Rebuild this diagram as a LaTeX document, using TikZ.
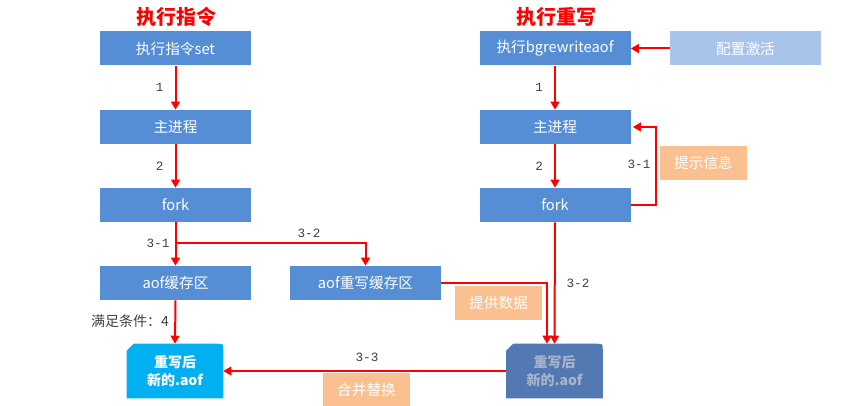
\documentclass[tikz,border=0pt]{standalone}
\usepackage{fontspec}
\setmainfont{Noto Sans CJK SC}
\newfontfamily\labelfont{Liberation Mono}
\usetikzlibrary{arrows.meta,calc}
\definecolor{boxblue}{RGB}{85,142,213}
\definecolor{cfgblue}{RGB}{169,196,235}
\definecolor{notebg}{RGB}{250,192,144}
\definecolor{newcyan}{RGB}{0,176,240}
\definecolor{oldblue}{RGB}{82,121,178}
\definecolor{oldtext}{RGB}{166,180,204}
\definecolor{lbl}{RGB}{64,64,64}
\tikzset{
  x=0.75pt, y=-0.75pt,
  stepbox/.style={fill=boxblue, text=white, inner sep=0pt, minimum width=113.25pt, minimum height=25.5pt, font=\fontsize{11}{12}\selectfont},
  cfgbox/.style={stepbox, fill=cfgblue},
  notebox/.style={fill=notebg, text=white, inner sep=0pt, minimum width=65.25pt, minimum height=25pt, font=\fontsize{11}{12}\selectfont},
  filebox/.style={inner sep=0pt, minimum width=72pt, minimum height=40.5pt, align=center, font=\fontsize{10.5}{13}\selectfont\bfseries},
  title/.style={text=red, font=\fontsize{15}{18}\selectfont\bfseries},
  flow/.style={draw=red, line width=1.5pt, -{Triangle[width=6.5pt,length=6pt]}},
  num/.style={text=lbl, font=\labelfont\fontsize{9.5}{10}\selectfont},
  cjknum/.style={text=lbl, font=\fontsize{10.5}{12}\selectfont},
}
\begin{document}
\begin{tikzpicture}
\useasboundingbox (0,0) rectangle (856,406);

% headings
\node[title] (t1) at (176,17) {执行指令};
\node[title] (t2) at (556,17) {执行重写};

% command path
\node[stepbox] (L1) at (175.5,48.5) {执行指令set};
\node[stepbox] (L2) at (175.5,127) {主进程};
\node[stepbox] (L3) at (175.5,205) {fork};
\node[stepbox] (A) at (175.5,283) {aof缓存区};
\node[stepbox] (B) at (365.5,283) {aof重写缓存区};

% rewrite path
\node[stepbox] (R1) at (555,48.5) {执行bgrewriteaof};
\node[stepbox] (R2) at (555,127) {主进程};
\node[stepbox] (R3) at (555,205) {fork};
\node[cfgbox] (cfg) at (745.5,48.5) {配置激活};

% notes
\node[notebox] (tip) at (703.5,163) {提示信息};
\node[notebox] (sup) at (498.5,303) {提供数据};
\node[notebox] (mrg) at (366.5,390) {合并替换};

% resulting files
\node[filebox] (NL) at (175,371) {};
\node[filebox] (NR) at (554.5,371) {};
\fill[newcyan] (NL.south west) -- ($(NL.north west)+(0,7)$) -- ($(NL.north west)+(7,0)$)
  -- ($(NL.north east)+(-6,0)$) .. controls (NL.north east) .. ($(NL.north east)+(0,6)$) -- (NL.south east) -- cycle;
\fill[oldblue] (NR.south west) -- ($(NR.north west)+(0,7)$) -- ($(NR.north west)+(7,0)$)
  -- ($(NR.north east)+(-6,0)$) .. controls (NR.north east) .. ($(NR.north east)+(0,6)$) -- (NR.south east) -- cycle;
\node[filebox, text=white] at (NL) {重写后\\新的.aof};
\node[filebox, text=oldtext] at (NR) {重写后\\新的.aof};

% command flow
\draw[flow] (L1.south) -- node[num, left=5pt] {1} (L2.north);
\draw[flow] (L2.south) -- node[num, left=5pt] {2} (L3.north);
\coordinate (br) at (175.5,243);
\draw[flow] (L3.south) -- (A.north);
\draw[flow] (br) -| (B.north);
\node[num] at (158,243) {3-1};
\node[num] at (309,233) {3-2};
\draw[flow] (A.south) -- (NL.north);
\node[cjknum] at (130,321) {满足条件：4};

% rewrite flow
\draw[flow] (cfg.west) -- (R1.east);
\draw[flow] (R1.south) -- node[num, left=5pt] {1} (R2.north);
\draw[flow] (R2.south) -- node[num, left=5pt] {2} (R3.north);
\coordinate (rt) at (656,205);
\draw[flow] (R3.east) -- (rt) |- ($(R2.east)+(2,0)$);
\node[num] at (639,164) {3-1};
\draw[flow] (R3.south) -- (NR.north);
\node[num] at (578,283) {3-2};
\coordinate (bj) at (547,283);
\draw[flow] (B.east) -- (bj) -- (bj |- NR.north);
\draw[flow] (NR.west) -- (NL.east);
\node[num] at (367,357) {3-3};
\end{tikzpicture}
\end{document}
